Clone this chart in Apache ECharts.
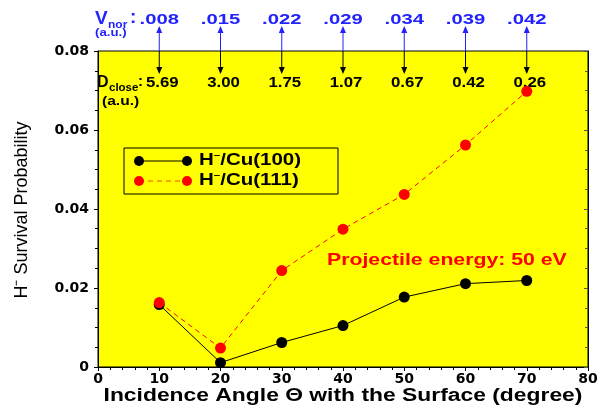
<!DOCTYPE html>
<html>
<head>
<meta charset="utf-8">
<script src="https://cdn.jsdelivr.net/npm/echarts@6/dist/echarts.min.js"></script>
<style>
  html, body { margin: 0; padding: 0; background: #fff; }
  #chart { width: 614px; height: 408px; }
</style>
</head>
<body>
<div id="chart"></div>
<script>
// incidence angles (degree)
const angles = [10, 20, 30, 40, 50, 60, 70];
// H- survival probability
const cu100 = [0.0158, 0.0011, 0.0062, 0.0105, 0.0177, 0.0211, 0.0219];
const cu111 = [0.0163, 0.0048, 0.0244, 0.0349, 0.0437, 0.0562, 0.0698];
// annotation labels above the plot
const vnorLabels = ['.008', '.015', '.022', '.029', '.034', '.039', '.042'];
const dcloseLabels = ['5.69', '3.00', '1.75', '1.07', '0.67', '0.42', '0.26'];

const FONT = 'Liberation Sans, Arial, sans-serif';
const TICK_FONT = 'DejaVu Sans';
const Y_MAX = 0.08;
const BLUE = '#2222ff';

const chart = echarts.init(document.getElementById('chart'));

// arrows + V_nor / D_close numbers, hung on the top edge of the grid
function renderAnnot(params, api) {
  const i = params.dataIndex;
  const p = api.coord([api.value(0), Y_MAX]);
  const x = p[0], y = p[1];
  return {
    type: 'group',
    children: [
      {type: 'text', x: x, y: y - 31, scaleX: 1.35, style: {text: vnorLabels[i], x: 0, y: 0,
        align: 'center', verticalAlign: 'middle', font: 'bold 15px ' + FONT, fill: BLUE}},
      {type: 'line', shape: {x1: x, y1: y - 21, x2: x, y2: y}, style: {stroke: BLUE, lineWidth: 1}},
      {type: 'polygon', shape: {points: [[x, y - 25], [x - 3, y - 18], [x + 3, y - 18]]}, style: {fill: BLUE}},
      {type: 'line', shape: {x1: x, y1: y, x2: x, y2: y + 19}, style: {stroke: '#000', lineWidth: 1}},
      {type: 'polygon', shape: {points: [[x, y + 23], [x - 3, y + 16], [x + 3, y + 16]]}, style: {fill: '#000'}},
      {type: 'text', x: x + 3, y: y + 32, scaleX: 1.2, style: {text: dcloseLabels[i], x: 0, y: 0,
        align: 'center', verticalAlign: 'middle', font: 'bold 14px ' + FONT, fill: '#000'}}
    ]
  };
}

const option = {
  animation: false,
  grid: {left: 98, right: 26, top: 51, bottom: 41, outerBoundsMode: 'none', show: true,
    backgroundColor: '#ffff00', borderColor: '#000', borderWidth: 1},
  xAxis: {
    type: 'value', min: 0, max: 80, interval: 10,
    axisLine: {lineStyle: {color: '#000'}},
    axisTick: {length: 4, lineStyle: {color: '#000'}},
    minorTick: {show: true, splitNumber: 5, length: 3, lineStyle: {color: '#000'}},
    axisLabel: {fontFamily: TICK_FONT, fontWeight: 'bold', fontSize: 14, color: '#000', margin: 5},
    splitLine: {show: false}
  },
  yAxis: [{
    type: 'value', min: 0, max: Y_MAX, interval: 0.02,
    axisLine: {show: true, lineStyle: {color: '#000'}},
    axisTick: {show: true, length: 4, lineStyle: {color: '#000'}},
    minorTick: {show: true, splitNumber: 4, length: 3, lineStyle: {color: '#000'}},
    axisLabel: {fontFamily: TICK_FONT, fontWeight: 'bold', fontSize: 14, color: '#000', margin: 9,
      formatter: v => v === 0 ? '0' : v.toFixed(2)},
    splitLine: {show: false}
  }, {
    type: 'value', min: 0, max: Y_MAX, interval: 0.02, position: 'right',
    axisLine: {show: true, lineStyle: {color: '#000'}},
    axisTick: {show: true, inside: true, length: 4, lineStyle: {color: '#555'}},
    minorTick: {show: true, splitNumber: 4, length: 3, lineStyle: {color: '#555'}},
    axisLabel: {show: false},
    splitLine: {show: false}
  }],
  series: [
    {
      name: 'H\u207B/Cu(100)', type: 'line',
      data: angles.map((a, i) => [a, cu100[i]]),
      symbol: 'circle', symbolSize: 11,
      itemStyle: {color: '#000'},
      lineStyle: {color: '#000', width: 1}
    },
    {
      name: 'H\u207B/Cu(111)', type: 'line',
      data: angles.map((a, i) => [a, cu111[i]]),
      symbol: 'circle', symbolSize: 11,
      itemStyle: {color: '#ff0000'},
      lineStyle: {color: '#ff0000', width: 1, type: [5, 4]}
    },
    {
      type: 'custom', silent: true, clip: false,
      data: angles.map(a => [a]),
      renderItem: renderAnnot
    }
  ],
  graphic: [
    // axis titles
    {type: 'text', x: 343, y: 396, scaleX: 1.27, style: {text: 'Incidence Angle \u0398 with the Surface (degree)',
      x: 0, y: 0, align: 'center', verticalAlign: 'middle', font: 'bold 18px ' + FONT, fill: '#000'}},
    {type: 'text', x: 22, y: 210, rotation: Math.PI / 2, style: {text: 'H\u207B Survival Probability',
      x: 0, y: 0, align: 'center', verticalAlign: 'middle', font: '18px ' + FONT, fill: '#000'}},
    // V_nor caption
    {type: 'text', x: 95, y: 19, style: {text: 'V', x: 0, y: 0, verticalAlign: 'middle', font: 'bold 19px ' + FONT, fill: BLUE}},
    {type: 'text', x: 108, y: 25, scaleX: 1.2, style: {text: 'nor', x: 0, y: 0, verticalAlign: 'middle', font: 'bold 10px ' + FONT, fill: BLUE}},
    {type: 'text', x: 130, y: 18, style: {text: ':', x: 0, y: 0, verticalAlign: 'middle', font: 'bold 19px ' + FONT, fill: BLUE}},
    {type: 'text', x: 95, y: 33, scaleX: 1.2, style: {text: '(a.u.)', x: 0, y: 0, verticalAlign: 'middle', font: 'bold 11px ' + FONT, fill: BLUE}},
    // D_close caption
    {type: 'text', x: 97, y: 83, style: {text: 'D', x: 0, y: 0, verticalAlign: 'middle', font: 'bold 16px ' + FONT, fill: '#000'}},
    {type: 'text', x: 109, y: 88, scaleX: 1.15, style: {text: 'close', x: 0, y: 0, verticalAlign: 'middle', font: 'bold 10px ' + FONT, fill: '#000'}},
    {type: 'text', x: 138, y: 82, style: {text: ':', x: 0, y: 0, verticalAlign: 'middle', font: 'bold 15px ' + FONT, fill: '#000'}},
    {type: 'text', x: 102, y: 101, scaleX: 1.2, style: {text: '(a.u.)', x: 0, y: 0, verticalAlign: 'middle', font: 'bold 13px ' + FONT, fill: '#000'}},
    // legend box
    {type: 'rect', shape: {x: 124, y: 148, width: 214, height: 46}, style: {fill: 'none', stroke: '#000', lineWidth: 1}},
    {type: 'line', shape: {x1: 139, y1: 161, x2: 187, y2: 161}, style: {stroke: '#000', lineWidth: 1}},
    {type: 'circle', shape: {cx: 139, cy: 161, r: 5}, style: {fill: '#000'}},
    {type: 'circle', shape: {cx: 187, cy: 161, r: 5}, style: {fill: '#000'}},
    {type: 'line', shape: {x1: 139, y1: 181, x2: 187, y2: 181}, style: {stroke: '#ff8800', lineWidth: 1.5, lineDash: [5, 4]}},
    {type: 'circle', shape: {cx: 139, cy: 181, r: 5}, style: {fill: '#ff0000'}},
    {type: 'circle', shape: {cx: 187, cy: 181, r: 5}, style: {fill: '#ff0000'}},
    {type: 'text', x: 199, y: 161, scaleX: 1.28, style: {
      text: '{h|H}{m|\u2013}{h|/Cu(100)}', x: 0, y: 0, verticalAlign: 'middle', rich: {
        h: {font: 'bold 16px ' + FONT, fill: '#000'},
        m: {font: 'bold 9px ' + FONT, fill: '#000', padding: [0, 0, 10, 0]}
      }}},
    {type: 'text', x: 199, y: 181, scaleX: 1.28, style: {
      text: '{h|H}{m|\u2013}{h|/Cu(111)}', x: 0, y: 0, verticalAlign: 'middle', rich: {
        h: {font: 'bold 16px ' + FONT, fill: '#000'},
        m: {font: 'bold 9px ' + FONT, fill: '#000', padding: [0, 0, 10, 0]}
      }}},
    // energy note
    {type: 'text', x: 327, y: 260, scaleX: 1.25, style: {text: 'Projectile energy: 50 eV', x: 0, y: 0,
      verticalAlign: 'middle', font: 'bold 17px ' + FONT, fill: '#ff0000'}}
  ]
};

chart.setOption(option);
</script>
</body>
</html>
